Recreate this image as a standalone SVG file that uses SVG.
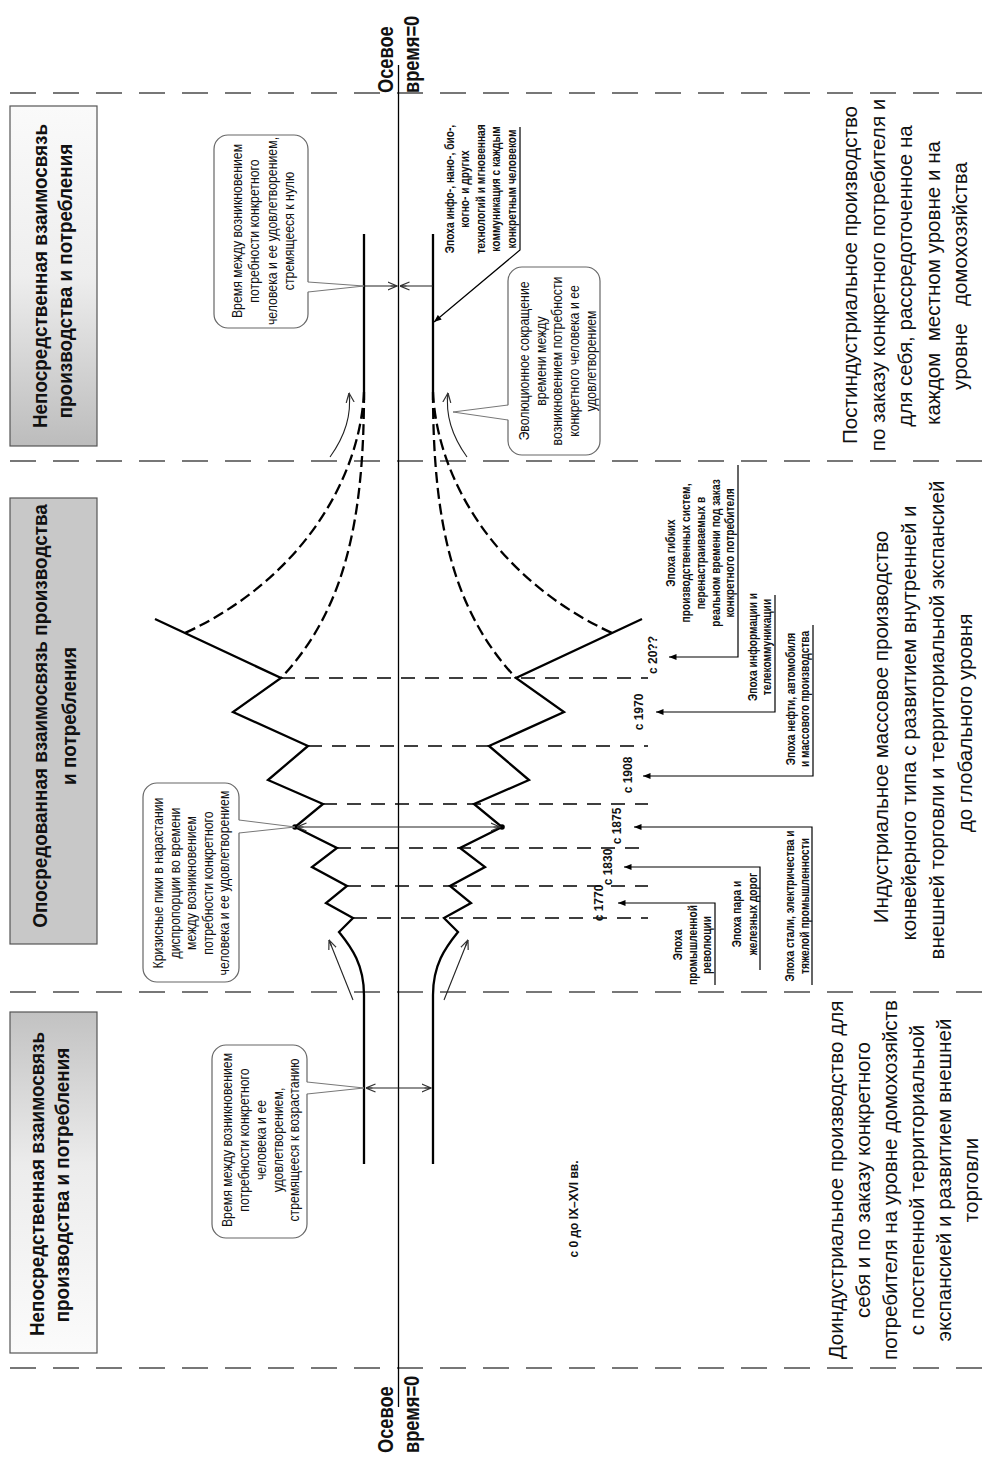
<svg xmlns="http://www.w3.org/2000/svg" width="1000" height="1467" viewBox="0 0 1000 1467">
<defs>
<style>
.t{font-family:"Liberation Sans",Arial,sans-serif;fill:#111;text-anchor:middle}
.ttl{font-size:21px;font-weight:bold}
.big{font-size:21px}
.cal{font-size:14px}
.ep{font-size:12px;font-weight:bold}
.dt{font-size:12px;font-weight:bold}
.ax{font-size:22px;font-weight:bold;text-anchor:start}
.sec{stroke:#777;stroke-width:2;stroke-dasharray:26 17;fill:none}
.hd{stroke:#000;stroke-width:1.5;stroke-dasharray:14 10;fill:none}
.thick{stroke:#000;stroke-width:2.3;fill:none;stroke-linejoin:miter}
.dcurve{stroke:#000;stroke-width:2.3;fill:none;stroke-dasharray:11 5}
.thin{stroke:#222;stroke-width:1.1;fill:none}
.lead{stroke:#000;stroke-width:1.2;fill:none}
.box{stroke:#555;stroke-width:1.2}
.cbox{fill:#fff;stroke:#666;stroke-width:1.2}
.tail{fill:none;stroke:#777;stroke-width:1}
</style>
<linearGradient id="gTop" x1="0" y1="0" x2="0" y2="1">
<stop offset="0" stop-color="#fafafa"/><stop offset="0.5" stop-color="#eeeeee"/><stop offset="1" stop-color="#bcbcbc"/>
</linearGradient>
<linearGradient id="gBot" x1="0" y1="0" x2="0" y2="1">
<stop offset="0" stop-color="#c2c2c2"/><stop offset="0.45" stop-color="#ececec"/><stop offset="1" stop-color="#fbfbfb"/>
</linearGradient>
<marker id="af" viewBox="0 0 10 8" refX="10" refY="4" markerWidth="9" markerHeight="6" markerUnits="userSpaceOnUse" orient="auto"><path d="M0,0 L10,4 L0,8 z" fill="#000"/></marker>
<marker id="ao" viewBox="0 0 10 10" refX="9.5" refY="5" markerWidth="10" markerHeight="10" markerUnits="userSpaceOnUse" orient="auto-start-reverse"><path d="M0,1 L9.5,5 L0,9 M3,5 L9.5,5" fill="none" stroke="#333" stroke-width="1.2"/></marker>
</defs>
<rect width="1000" height="1467" fill="#fff"/>

<g id="section-lines">
<path class="sec" d="M10,93 H990 M10,461 H990 M10,992 H990 M10,1368 H990"/>
</g>

<g id="axis">
<path d="M398.5,65 V1407" stroke="#000" stroke-width="1.3"/>
<text class="t ax" transform="translate(393,93) rotate(-90) scale(.83,1)">Осевое</text>
<text class="t ax" transform="translate(419,93) rotate(-90) scale(.83,1)">время=0</text>
<text class="t ax" transform="translate(393,1453) rotate(-90) scale(.83,1)">Осевое</text>
<text class="t ax" transform="translate(419,1453) rotate(-90) scale(.83,1)">время=0</text>
</g>

<g id="title-top">
<rect class="box" x="10" y="106" width="87" height="340" fill="url(#gTop)"/>
<text class="t ttl" transform="translate(47,276) rotate(-90) scale(.9,1)">Непосредственная взаимосвязь</text>
<text class="t ttl" transform="translate(72,281) rotate(-90) scale(.9,1)">производства и потребления</text>
</g>
<g id="title-middle">
<rect class="box" x="10" y="498" width="87" height="446" fill="#c8c8c8"/>
<text class="t ttl" transform="translate(47,716) rotate(-90) scale(.9,1)">Опосредованная взаимосвязь производства</text>
<text class="t ttl" transform="translate(76,716) rotate(-90) scale(.9,1)">и потребления</text>
</g>
<g id="title-bottom">
<rect class="box" x="10" y="1012" width="87" height="341" fill="url(#gBot)"/>
<text class="t ttl" transform="translate(44,1184) rotate(-90) scale(.9,1)">Непосредственная взаимосвязь</text>
<text class="t ttl" transform="translate(69,1185) rotate(-90) scale(.9,1)">производства и потребления</text>
</g>

<g id="text-postindustrial">
<text class="t big" transform="translate(857,275) rotate(-90) scale(.98,1)">Постиндустриальное производство</text>
<text class="t big" transform="translate(885,275) rotate(-90) scale(.98,1)">по заказу конкретного потребителя и</text>
<text class="t big" transform="translate(912,276) rotate(-90) scale(.98,1)">для себя, рассредоточенное на</text>
<text class="t big" xml:space="preserve" transform="translate(940,283) rotate(-90) scale(.98,1)">каждом  местном уровне и на</text>
<text class="t big" xml:space="preserve" transform="translate(967,276) rotate(-90) scale(.98,1)">уровне   домохозяйства</text>
</g>
<g id="text-industrial">
<text class="t big" transform="translate(888,727) rotate(-90) scale(.98,1)">Индустриальное массовое производство</text>
<text class="t big" transform="translate(916,723) rotate(-90) scale(.98,1)">конвейерного типа с развитием внутренней и</text>
<text class="t big" transform="translate(944,720) rotate(-90) scale(.98,1)">внешней торговли и территориальной экспансией</text>
<text class="t big" transform="translate(972,723) rotate(-90) scale(.98,1)">до глобального уровня</text>
</g>
<g id="text-preindustrial">
<text class="t big" transform="translate(843,1180) rotate(-90) scale(.98,1)">Доиндустриальное производство для</text>
<text class="t big" transform="translate(870,1180) rotate(-90) scale(.98,1)">себя и по заказу конкретного</text>
<text class="t big" transform="translate(897,1180) rotate(-90) scale(.98,1)">потребителя на уровне домохозяйств</text>
<text class="t big" transform="translate(924,1180) rotate(-90) scale(.98,1)">с постепенной территориальной</text>
<text class="t big" transform="translate(951,1180) rotate(-90) scale(.98,1)">экспансией и развитием внешней</text>
<text class="t big" transform="translate(978,1180) rotate(-90) scale(.98,1)">торговли</text>
</g>

<g id="shape">
<path class="hd" d="M281,678 H648 M308,746 H648 M323,804 H648 M337,848 H648 M347,886 H648 M353,918 H648"/>
<path class="thick" d="M364,234 V400 M433,234 V400"/>
<path class="dcurve" d="M364,392 C364,520 345,610 281,678 M364,392 C360,480 300,580 185,633 M433,392 C433,520 452,610 516,678 M433,392 C437,480 497,580 612,633"/>
<path class="thick" d="M155,619 L281,678 L233,712 L308,746 L268,780 L323,804 L295,827 L337,848 L312,867 L347,886 L326,903 L353,918 L339,932 C352,948 364,965 364,995 L364,1164"/>
<path class="thick" d="M642,619 L516,678 L564,712 L489,746 L529,780 L474,804 L502,827 L460,848 L485,867 L450,886 L471,903 L444,918 L458,932 C445,948 433,965 433,995 L433,1164"/>
<circle cx="295" cy="827" r="2.8" fill="#000"/>
<circle cx="502" cy="827" r="2.8" fill="#000"/>
</g>

<g id="connectors">
<path class="thin" d="M364,286 L397,286" marker-end="url(#ao)"/>
<path class="thin" d="M433,286 L400,286" marker-end="url(#ao)"/>
<path class="thin" d="M297,827 L500,827" marker-start="url(#ao)" marker-end="url(#ao)"/>
<path class="thin" d="M366,1088 L431,1088" marker-start="url(#ao)" marker-end="url(#ao)"/>
<path class="thin" d="M330,457 Q353,425 349,393" marker-end="url(#ao)"/>
<path class="thin" d="M467,457 Q444,425 448,393" marker-end="url(#ao)"/>
<path class="thin" d="M353,1000 Q339,965 329,940" marker-end="url(#ao)"/>
<path class="thin" d="M444,1000 Q458,965 468,940" marker-end="url(#ao)"/>
<path class="lead" d="M520,127 V250 L434,322" marker-end="url(#af)"/>
<path class="lead" d="M738,465 V657 H669" marker-end="url(#af)"/>
<path class="lead" d="M775,595 V712 H656" marker-end="url(#af)"/>
<path class="lead" d="M813,625 V776 H643" marker-end="url(#af)"/>
<path class="lead" d="M812,985 V827 H634" marker-end="url(#af)"/>
<path class="lead" d="M760,970 V867 H624" marker-end="url(#af)"/>
<path class="lead" d="M715,985 V903 H618" marker-end="url(#af)"/>
</g>

<g id="callout-zero">
<rect class="cbox" x="214" y="135" width="94" height="193" rx="14"/>
<path d="M306,282 L364,286 L306,292 Z" fill="#fff"/>
<polyline class="tail" points="308,282 364,286 308,292"/>
<text class="t cal" transform="translate(242,231) rotate(-90) scale(.88,1)">Время между возникновением</text>
<text class="t cal" transform="translate(259,231) rotate(-90) scale(.88,1)">потребности конкретного</text>
<text class="t cal" transform="translate(277,231) rotate(-90) scale(.88,1)">человека и ее удовлетворением,</text>
<text class="t cal" transform="translate(294,231) rotate(-90) scale(.88,1)">стремящееся к нулю</text>
</g>
<g id="callout-evolution">
<rect class="cbox" x="508" y="267" width="92" height="188" rx="14"/>
<path d="M510,405 L453,412 L510,420 Z" fill="#fff"/>
<polyline class="tail" points="508,405 453,412 508,420"/>
<text class="t cal" transform="translate(529,361) rotate(-90) scale(.88,1)">Эволюционное сокращение</text>
<text class="t cal" transform="translate(546,361) rotate(-90) scale(.88,1)">времени между</text>
<text class="t cal" transform="translate(562,361) rotate(-90) scale(.88,1)">возникновением потребности</text>
<text class="t cal" transform="translate(579,361) rotate(-90) scale(.88,1)">конкретного человека и ее</text>
<text class="t cal" transform="translate(596,361) rotate(-90) scale(.88,1)">удовлетворением</text>
</g>
<g id="callout-crisis">
<rect class="cbox" x="143" y="783" width="96" height="199" rx="14"/>
<path d="M237,820 L295,827 L237,833 Z" fill="#fff"/>
<polyline class="tail" points="239,820 295,827 239,833"/>
<text class="t cal" transform="translate(163,883) rotate(-90) scale(.88,1)">Кризисные пики в нарастании</text>
<text class="t cal" transform="translate(180,883) rotate(-90) scale(.88,1)">диспропорции во времени</text>
<text class="t cal" transform="translate(196,883) rotate(-90) scale(.88,1)">между возникновением</text>
<text class="t cal" transform="translate(213,883) rotate(-90) scale(.88,1)">потребности конкретного</text>
<text class="t cal" transform="translate(229,883) rotate(-90) scale(.88,1)">человека и ее удовлетворением</text>
</g>
<g id="callout-growth">
<rect class="cbox" x="212" y="1045" width="95" height="193" rx="14"/>
<path d="M305,1082 L364,1088 L305,1094 Z" fill="#fff"/>
<polyline class="tail" points="307,1082 364,1088 307,1094"/>
<text class="t cal" transform="translate(232,1140) rotate(-90) scale(.88,1)">Время между возникновением</text>
<text class="t cal" transform="translate(249,1140) rotate(-90) scale(.88,1)">потребности конкретного</text>
<text class="t cal" transform="translate(266,1140) rotate(-90) scale(.88,1)">человека и ее</text>
<text class="t cal" transform="translate(283,1140) rotate(-90) scale(.88,1)">удовлетворением,</text>
<text class="t cal" transform="translate(299,1140) rotate(-90) scale(.88,1)">стремящееся к возрастанию</text>
</g>

<g id="epoch-info-nano">
<text class="t ep" transform="translate(454,189) rotate(-90) scale(.85,1)">Эпоха инфо-, нано-, био-,</text>
<text class="t ep" transform="translate(469,189) rotate(-90) scale(.85,1)">когно- и других</text>
<text class="t ep" transform="translate(485,189) rotate(-90) scale(.85,1)">технологий и мгновенная</text>
<text class="t ep" transform="translate(500,189) rotate(-90) scale(.85,1)">коммуникация с каждым</text>
<text class="t ep" transform="translate(516,189) rotate(-90) scale(.85,1)">конкретным человеком</text>
</g>
<g id="epoch-flexible">
<text class="t ep" transform="translate(675,553) rotate(-90) scale(.85,1)">Эпоха гибких</text>
<text class="t ep" transform="translate(690,553) rotate(-90) scale(.85,1)">производственных систем,</text>
<text class="t ep" transform="translate(705,553) rotate(-90) scale(.85,1)">перенастраиваемых в</text>
<text class="t ep" transform="translate(720,553) rotate(-90) scale(.85,1)">реальном времени под заказ</text>
<text class="t ep" transform="translate(734,553) rotate(-90) scale(.85,1)">конкретного потребителя</text>
</g>
<g id="epoch-information">
<text class="t ep" transform="translate(757,647) rotate(-90) scale(.85,1)">Эпоха информации и</text>
<text class="t ep" transform="translate(771,647) rotate(-90) scale(.85,1)">телекоммуникации</text>
</g>
<g id="epoch-oil">
<text class="t ep" transform="translate(795,699) rotate(-90) scale(.85,1)">Эпоха нефти, автомобиля</text>
<text class="t ep" transform="translate(809,699) rotate(-90) scale(.85,1)">и массового производства</text>
</g>
<g id="epoch-steel">
<text class="t ep" transform="translate(794,906) rotate(-90) scale(.85,1)">Эпоха стали, электричества и</text>
<text class="t ep" transform="translate(809,906) rotate(-90) scale(.85,1)">тяжелой промышленности</text>
</g>
<g id="epoch-steam">
<text class="t ep" transform="translate(741,914) rotate(-90) scale(.85,1)">Эпоха пара и</text>
<text class="t ep" transform="translate(757,914) rotate(-90) scale(.85,1)">железных дорог</text>
</g>
<g id="epoch-revolution">
<text class="t ep" transform="translate(682,945) rotate(-90) scale(.85,1)">Эпоха</text>
<text class="t ep" transform="translate(697,945) rotate(-90) scale(.85,1)">промышленной</text>
<text class="t ep" transform="translate(711,945) rotate(-90) scale(.85,1)">революции</text>
</g>

<g id="dates">
<text class="t dt" transform="translate(657,655) rotate(-90)">с 20??</text>
<text class="t dt" transform="translate(643,712) rotate(-90)">с 1970</text>
<text class="t dt" transform="translate(632,775) rotate(-90)">с 1908</text>
<text class="t dt" transform="translate(621,826) rotate(-90)">с 1875</text>
<text class="t dt" transform="translate(612,867) rotate(-90)">с 1830</text>
<text class="t dt" transform="translate(603,903) rotate(-90)">с 1770</text>
<text class="t dt" transform="translate(578,1209) rotate(-90)">с 0 до IX–XVI вв.</text>
</g>
</svg>
